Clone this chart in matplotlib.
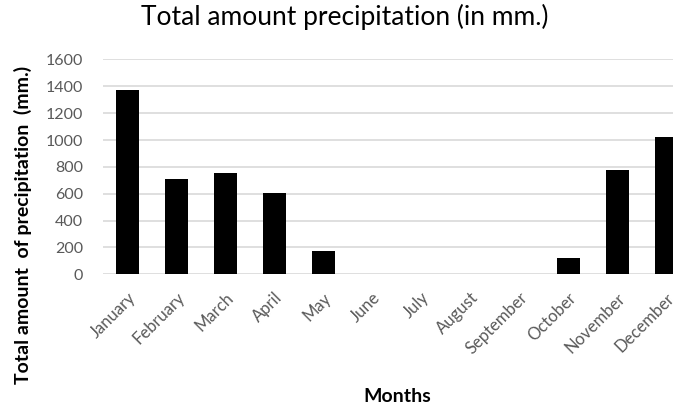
import matplotlib
matplotlib.use("Agg")
import matplotlib.pyplot as plt

months = ["January", "February", "March", "April", "May", "June", "July",
          "August", "September", "October", "November", "December"]
precip = [1370, 710, 755, 605, 175, 0, 0, 0, 0, 125, 780, 1020]
yticks = [0, 200, 400, 600, 800, 1000, 1200, 1400, 1600]

plt.rcParams['font.family'] = ['Lato', 'DejaVu Sans']

fig = plt.figure(figsize=(6.73, 4.07), dpi=100)
ax = fig.add_axes([0.1527, 0.326, 0.8738, 0.528])

x = list(range(len(months)))
ax.bar(x, precip, width=0.46, color='black', zorder=3)
ax.set_xlim(-0.5, 11.5)
ax.set_ylim(0, 1600)
ax.set_yticks(yticks)
ax.set_yticklabels([str(v) for v in yticks], fontsize=11.5, color='#595959')
ax.set_xticks(x)
ax.set_xticklabels(months, rotation=45, ha='right', rotation_mode='anchor',
                   fontsize=12, color='#595959')
ax.tick_params(axis='both', length=0)
ax.tick_params(axis='y', pad=14)
ax.tick_params(axis='x', pad=11)
ax.grid(axis='y', color='#d9d9d9', linewidth=1.2, zorder=0)
for s in ax.spines.values():
    s.set_visible(False)

fig.text(0.513, 0.958, "Total amount precipitation (in mm.)", ha='center', va='center',
         fontsize=19, color='black')
fig.text(0.59, 0.025, "Months", ha='center', va='center', fontsize=14,
         fontweight='bold', color='black')
fig.text(0.034, 0.447, "Total amount  of precipitation  (mm.)", ha='center', va='center',
         rotation=90, fontsize=14, fontweight='bold', color='black')

fig.savefig("out.png", dpi=100)
